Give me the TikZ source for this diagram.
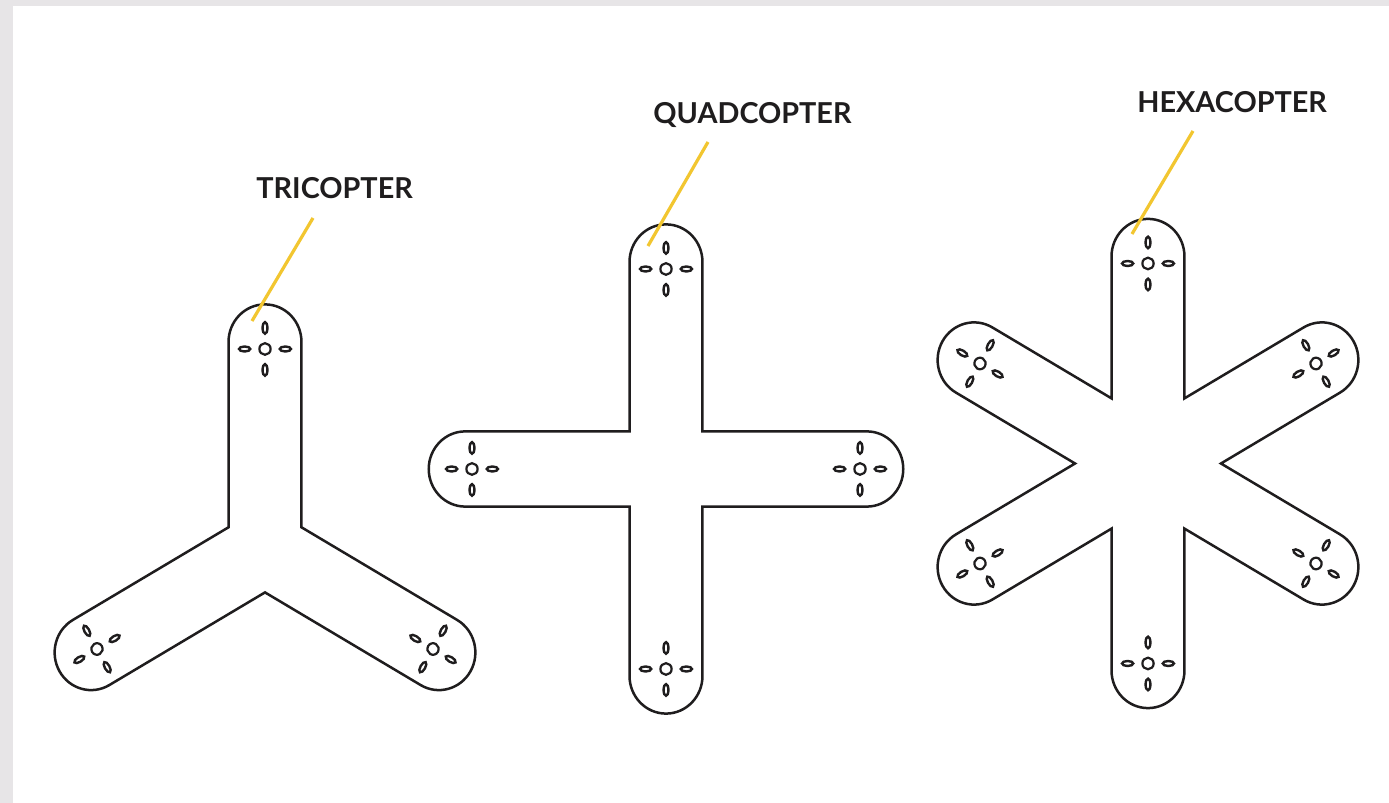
\documentclass[tikz,border=0pt]{standalone}
\usepackage{fontspec}
\setmainfont{Lato}
\usetikzlibrary{calc}
\definecolor{ink}{HTML}{1F1D1E}
\definecolor{gold}{HTML}{F2C630}
\definecolor{frameback}{HTML}{E7E5E7}
\tikzset{
	frame/.style={draw=ink,line width=1.25pt,line join=miter},
	motor/.style={draw=ink,line width=1.1pt,fill=white},
	blade/.style={draw=ink,line width=1.2pt,fill=white},
	lead/.style={draw=gold,line width=1.6pt},
	title/.style={font=\bfseries\fontsize{14.4}{16}\selectfont,text=ink,inner sep=0pt}
}
\newcommand\armW{37.6}
\newcommand\armL{207}
% #1 centre, #2 number of arms, #3 arm angles
\newcommand\copter[3]{%
	\pgfmathsetmacro\half{180/#2}
	\pgfmathsetmacro\cor{\armW/sin(\half)}
	\begin{scope}[shift={(#1)},xscale=0.97]
		\draw[frame] ({90-\half}:\cor)
		\foreach \a in {#3}{
			-- ({\armL*cos(\a)+\armW*sin(\a)},{\armL*sin(\a)-\armW*cos(\a)})
			arc[start angle=\a-90,delta angle=180,radius=\armW]
			-- ({\a+\half}:\cor)
		} -- cycle;
		\foreach \a in {#3}{
			\begin{scope}[rotate=\a]
				\draw[motor] (200,0) circle[radius=5.8];
				\draw[blade] (221,0) circle[x radius=5.8,y radius=2.5];
				\draw[blade] (179,0) circle[x radius=5.8,y radius=2.5];
				\draw[blade] (200,21) circle[x radius=2.5,y radius=5.8];
				\draw[blade] (200,-21) circle[x radius=2.5,y radius=5.8];
			\end{scope}
		}
	\end{scope}
}
\begin{document}
\begin{tikzpicture}[x=0.5pt,y=0.5pt]
\fill[frameback] (0,0) rectangle (1389,803);
\fill[white] (13,0) rectangle (1389,797);
\useasboundingbox (0,0) rectangle (1389,803);

\coordinate (tric) at (265,254);
\coordinate (quadc) at (666,334);
\coordinate (hexc) at (1148,339.5);

\copter{tric}{3}{90,210,330}
\copter{quadc}{4}{90,180,270,360}
\copter{hexc}{6}{90,150,210,270,330,390}

\node[title,anchor=base west] (tri) at (256,604) {TRICOPTER};
\node[title,anchor=base west] (quad) at (653,679) {QUADCOPTER};
\node[title,anchor=base west] (hex) at (1137,690) {HEXACOPTER};

\coordinate (tri foot) at (252,482);
\coordinate (quad foot) at (648,557);
\coordinate (hex foot) at (1132,569);
\coordinate (tri top) at ($(tri.base west)+(57,-19)$);
\coordinate (quad top) at ($(quad.base west)+(55,-18)$);
\coordinate (hex top) at ($(hex.base west)+(56,-18)$);

\draw[lead] (tri top) -- (tri foot);
\draw[lead] (quad top) -- (quad foot);
\draw[lead] (hex top) -- (hex foot);
\end{tikzpicture}
\end{document}
